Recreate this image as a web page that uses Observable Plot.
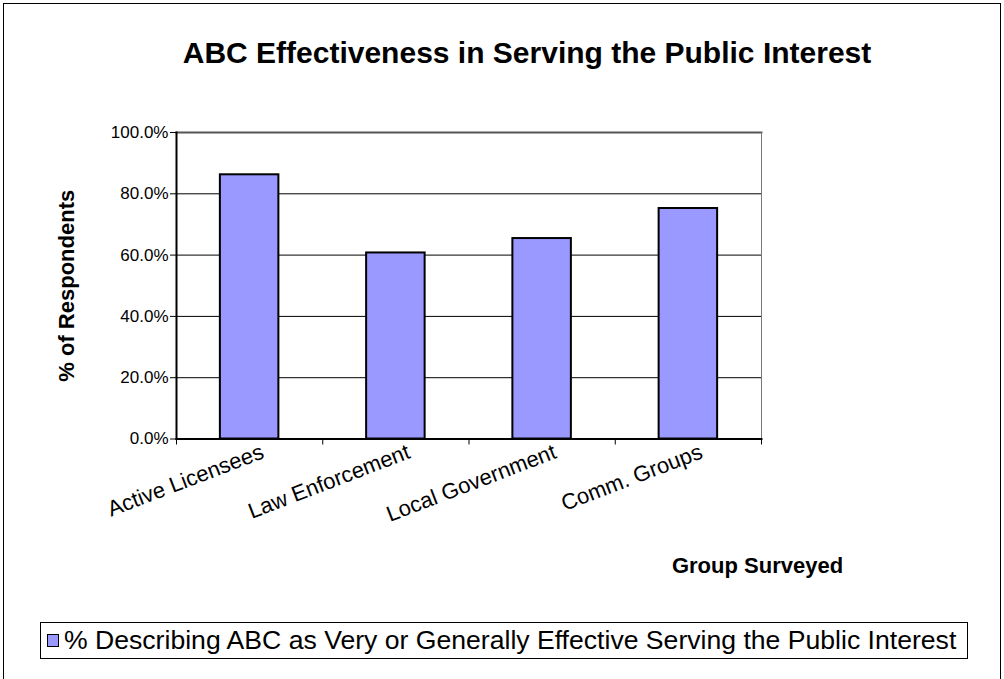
<!DOCTYPE html>
<html>
<head>
<meta charset="utf-8">
<script src="https://cdn.jsdelivr.net/npm/d3@7"></script>
<script src="https://cdn.jsdelivr.net/npm/@observablehq/plot@0.6"></script>
<style>
  html, body { margin: 0; padding: 0; background: #fff; overflow: hidden; }
  #wrap { position: relative; width: 1004px; height: 679px; font-family: Arial, "Liberation Sans", sans-serif; color: #000; }
  #border { position: absolute; left: 3px; top: 3px; width: 998px; height: 720px; border: 1px solid #000; box-sizing: border-box; }
  #title { position: absolute; left: 0; top: 35px; width: 1054px; text-align: center; font-weight: bold; font-size: 30px; line-height: 36px; white-space: nowrap; }
  #chart { position: absolute; left: 0; top: 0; }
  #legend { position: absolute; left: 40px; top: 622px; width: 928px; height: 37px; border: 1px solid #000; box-sizing: border-box; display: flex; align-items: center; font-size: 26.6px; white-space: nowrap; }
  #legend .sw { display: inline-block; flex: none; width: 12px; height: 13px; background: #9999ff; border: 1.5px solid #000; box-sizing: border-box; margin-left: 6px; margin-right: 5px; }
</style>
</head>
<body>
<div id="wrap">
  <div id="border"></div>
  <div id="title">ABC Effectiveness in Serving the Public Interest</div>
  <div id="chart"></div>
  <div id="legend"><span class="sw"></span><span id="legtext"></span></div>
</div>
<script>
const categories = ["Active Licensees", "Law Enforcement", "Local Government", "Comm. Groups"];
const values = [0.862, 0.607, 0.654, 0.752];
const yTicks = [0, 0.2, 0.4, 0.6, 0.8, 1.0];
const seriesName = "% Describing ABC as Very or Generally Effective Serving the Public Interest";
const yTitle = "% of Respondents";
const xTitle = "Group Surveyed";

const data = categories.map((c, i) => ({group: c, idx: i, value: values[i]}));
document.getElementById("legtext").textContent = seriesName;

const chart = Plot.plot({
  width: 1004,
  height: 600,
  marginLeft: 176,
  marginRight: 243,
  marginTop: 132,
  marginBottom: 161.5,
  style: {fontFamily: "Arial, 'Liberation Sans', sans-serif", fontSize: "17px", color: "#000", background: "transparent", overflow: "visible"},
  x: {type: "linear", domain: [0, categories.length]},
  y: {domain: [0, 1]},
  marks: [
    Plot.gridY(yTicks, {stroke: "#000", strokeOpacity: 1, strokeWidth: 1}),
    Plot.rectY(data, {x1: d => d.idx + 0.3, x2: d => d.idx + 0.7, y1: 0, y2: "value", fill: "#9999ff", stroke: "#000", strokeWidth: 2}),
    Plot.frame({anchor: "top", stroke: "#555", strokeWidth: 2}),
    Plot.frame({anchor: "right", stroke: "#777", strokeWidth: 1}),
    Plot.frame({anchor: "left", stroke: "#000", strokeWidth: 2}),
    Plot.frame({anchor: "bottom", stroke: "#000", strokeWidth: 2}),
    Plot.axisY({ticks: yTicks, tickFormat: d => (d * 100).toFixed(1) + "%", tickSize: 6, tickPadding: 2, label: null, fontSize: 17}),
    Plot.axisX({ticks: d3.range(categories.length + 1), tickFormat: () => "", tickSize: 6, label: null}),
    Plot.text(data, {x: d => d.idx + 0.5, y: 0, text: "group", rotate: -21, textAnchor: "end", lineAnchor: "top", dy: 4, dx: 10, fontSize: 22}),
    Plot.text([yTitle], {frameAnchor: "left", textAnchor: "middle", rotate: -90, dx: -110, fontWeight: "bold", fontSize: 22}),
    Plot.text([xTitle], {frameAnchor: "bottom-right", textAnchor: "middle", dx: -4, dy: 134, fontWeight: "bold", fontSize: 22})
  ]
});
document.getElementById("chart").appendChild(chart);
</script>
</body>
</html>
